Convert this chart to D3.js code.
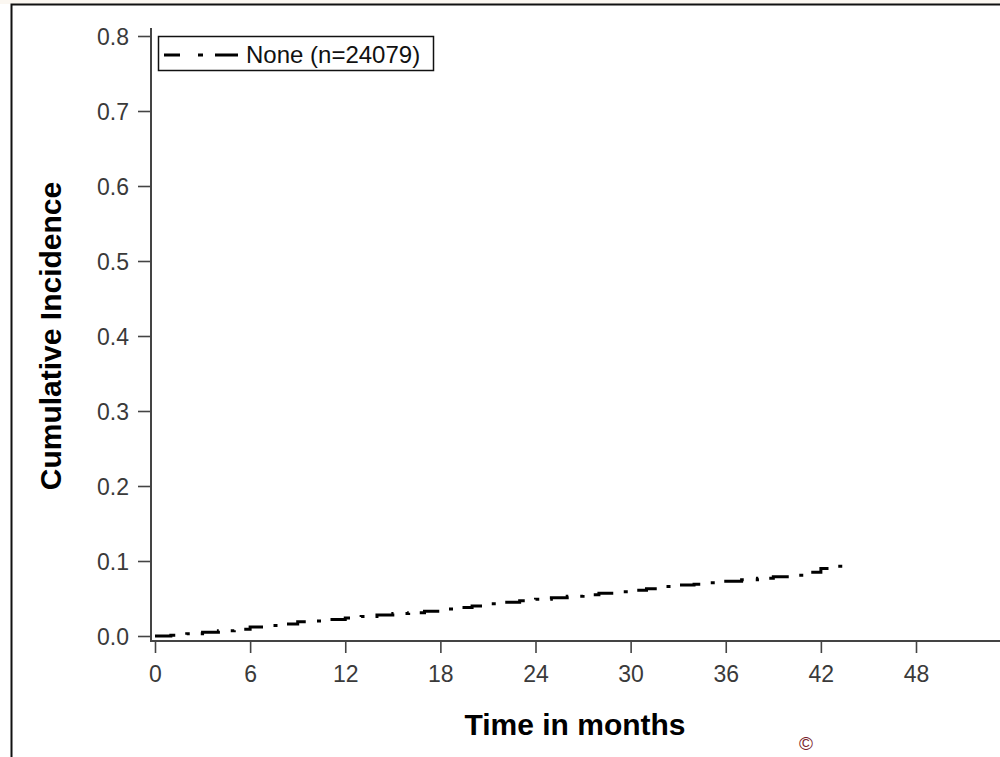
<!DOCTYPE html>
<html>
<head>
<meta charset="utf-8">
<script src="https://cdn.jsdelivr.net/npm/d3@7"></script>
<style>
  html, body { margin: 0; padding: 0; background: #ffffff; }
  svg { display: block; }
  text { font-family: Arial, "Liberation Sans", sans-serif; }
</style>
</head>
<body>
<script>
// ---- data ----
const months = [0,1,2,3,4,5,6,7,8,9,10,11,12,13,14,15,16,17,18,19,20,21,22,23,24,25,26,27,28,29,30,31,32,33,34,35,36,37,38,39,40,41,42,43,43.7];
const incidence = [0,0.001,0.003,0.005,0.007,0.009,0.012,0.014,0.016,0.019,0.020,0.022,0.024,0.026,0.028,0.030,0.031,0.033,0.036,0.038,0.040,0.043,0.045,0.047,0.049,0.051,0.053,0.055,0.057,0.059,0.061,0.063,0.066,0.068,0.069,0.071,0.073,0.075,0.077,0.079,0.081,0.085,0.090,0.093,0.093];
const xTicks = [0,6,12,18,24,30,36,42,48];
const yTicks = [0.0,0.1,0.2,0.3,0.4,0.5,0.6,0.7,0.8];
const seriesLabel = "None (n=24079)";
const xTitle = "Time in months";
const yTitle = "Cumulative Incidence";

const W = 1000, H = 757;
const svg = d3.select("body").append("svg").attr("width", W).attr("height", H);

// background / frame
svg.append("rect").attr("x",0).attr("y",0).attr("width",W).attr("height",4).attr("fill","#fbf7f1");
svg.append("rect").attr("x",11.5).attr("y",4.5).attr("width",W+20).attr("height",H+20)
  .attr("fill","#fff").attr("stroke","#111").attr("stroke-width",2);

const x = d3.scaleLinear().domain([0,48]).range([155,916]);
const y = d3.scaleLinear().domain([0,0.8]).range([636,36]);
const axisColor = "#444";
const labelColor = "#3a3a3a";

// y axis
const gy = svg.append("g").attr("transform","translate(151,0)")
  .call(d3.axisLeft(y).tickValues(yTicks).tickFormat(d3.format(".1f")).tickSize(13).tickSizeOuter(0));
gy.select(".domain").remove();
gy.selectAll(".tick line").attr("stroke",axisColor).attr("stroke-width",1.6);
gy.selectAll(".tick text").attr("x",-22).attr("dy",null).attr("y",8)
  .attr("font-size",23).attr("fill",labelColor).attr("font-family","Arial, 'Liberation Sans', sans-serif");
svg.append("line").attr("x1",151).attr("x2",151).attr("y1",28).attr("y2",641)
  .attr("stroke",axisColor).attr("stroke-width",2);

// x axis
const gx = svg.append("g").attr("transform","translate(0,641)")
  .call(d3.axisBottom(x).tickValues(xTicks).tickFormat(d3.format("d")).tickSize(12).tickSizeOuter(0));
gx.select(".domain").remove();
gx.selectAll(".tick line").attr("stroke",axisColor).attr("stroke-width",1.6);
gx.selectAll(".tick text").attr("dy",null).attr("y",41)
  .attr("font-size",23).attr("fill",labelColor).attr("font-family","Arial, 'Liberation Sans', sans-serif");
svg.append("line").attr("x1",150).attr("x2",W).attr("y1",641).attr("y2",641)
  .attr("stroke",axisColor).attr("stroke-width",2);

// titles
svg.append("text").attr("x",575).attr("y",735).attr("text-anchor","middle")
  .attr("font-size",30).attr("font-weight","bold").attr("fill","#000").text(xTitle);
svg.append("text").attr("transform","translate(61,336) rotate(-90)").attr("text-anchor","middle")
  .attr("font-size",30).attr("font-weight","bold").attr("fill","#000").text(yTitle);

// curve
const data = months.map((m,i)=>({t:m, v:incidence[i]}));
const line = d3.line().x(d=>x(d.t)).y(d=>y(d.v)).curve(d3.curveStepAfter);
svg.append("path").datum(data).attr("d",line).attr("fill","none")
  .attr("stroke","#000").attr("stroke-width",3).attr("stroke-dasharray","21,12,4,11");

// legend
svg.append("rect").attr("x",158.5).attr("y",36.5).attr("width",275).attr("height",34)
  .attr("fill","#fff").attr("stroke","#111").attr("stroke-width",1.5);
svg.append("line").attr("x1",164).attr("x2",238).attr("y1",55).attr("y2",55)
  .attr("stroke","#000").attr("stroke-width",3).attr("stroke-dasharray","16,18,5,12,23");
svg.append("text").attr("x",246).attr("y",63).attr("font-size",24).attr("fill","#111").text(seriesLabel);

// copyright mark
svg.append("text").attr("x",806).attr("y",750).attr("text-anchor","middle")
  .attr("font-size",19).attr("fill","#7a1f2b").text("\u00a9");
</script>
</body>
</html>
